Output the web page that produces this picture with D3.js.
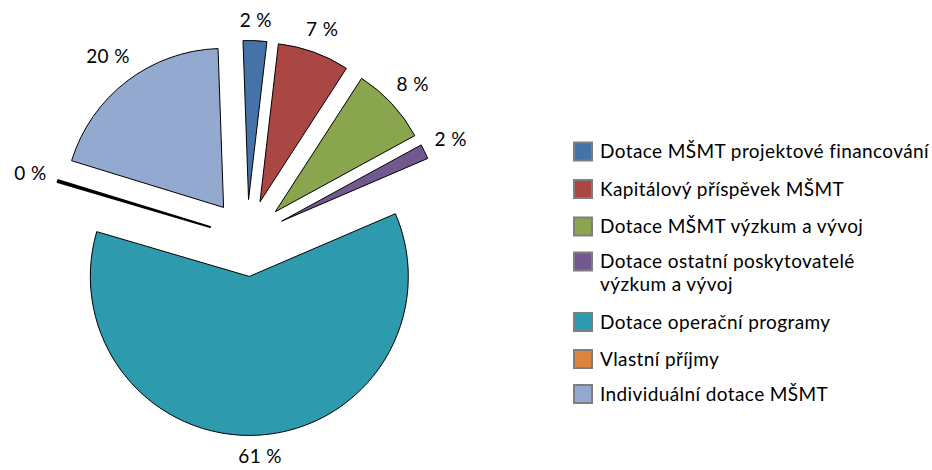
<!DOCTYPE html>
<html>
<head>
<meta charset="utf-8">
<script src="https://cdn.jsdelivr.net/npm/d3@7"></script>
<style>
  body { margin: 0; background: #fff; }
  text { font-family: Lato, "Noto Sans", sans-serif; fill: #000; font-size: 19px; letter-spacing: 0.4px; }
</style>
</head>
<body>
<div id="chart"></div>
<script>
// categories, shares (in %) and colours
var categories = [
  "Dotace MŠMT projektové financování",
  "Kapitálový příspěvek MŠMT",
  "Dotace MŠMT výzkum a vývoj",
  "Dotace ostatní poskytovatelé\nvýzkum a vývoj",
  "Dotace operační programy",
  "Vlastní příjmy",
  "Individuální dotace MŠMT"
];
var values = [2.4, 7.3, 7.9, 1.5, 61.0, 0.2, 19.7];
var colors = ["#4573a7", "#aa4643", "#89a54e", "#71588f", "#2e9aae", "#db843d", "#93a9cf"];

var width = 932, height = 470;
var cx = 247, cy = 238,
    radius = 159,
    explode = 38.5,
    labelPad = 10.5;

var svg = d3.select("#chart").append("svg")
    .attr("width", width)
    .attr("height", height);

var data = values.map(function(v, i) { return {name: categories[i], value: v, color: colors[i]}; });

var startA = -2 / 180 * Math.PI;
var pie = d3.pie()
    .sort(null)
    .value(function(d) { return d.value; })
    .startAngle(startA)
    .endAngle(startA + 2 * Math.PI);

var arc = d3.arc().innerRadius(0).outerRadius(radius);

var arcs = pie(data);

// offset of each slice along its bisector
function shift(d, dist) {
  var a = (d.startAngle + d.endAngle) / 2;
  return [Math.sin(a) * dist, -Math.cos(a) * dist];
}

var g = svg.append("g")
    .attr("transform", "translate(" + cx + "," + cy + ")");

g.selectAll("path.slice")
  .data(arcs)
  .enter().append("path")
    .attr("class", "slice")
    .attr("transform", function(d) { var s = shift(d, explode); return "translate(" + s[0] + "," + s[1] + ")"; })
    .attr("d", arc)
    .style("fill", function(d) { return d.data.color; })
    .style("stroke", "#000")
    .style("stroke-width", function(d) { return d.data.value < 0.5 ? 2 : 1; })
    .style("stroke-linejoin", "round");

// labels sit outside the slice; the box edge keeps a small gap from the arc
g.selectAll("text.lbl")
  .data(arcs)
  .enter().append("text")
    .attr("class", "lbl")
    .attr("text-anchor", "middle")
    .attr("dy", "0.35em")
    .text(function(d) { return Math.round(d.data.value) + " %"; })
    .attr("transform", function(d) {
      var a = (d.startAngle + d.endAngle) / 2,
          w = this.getComputedTextLength(), h = 18;
      var dist = explode + radius + labelPad + w / 2 * Math.abs(Math.sin(a)) + h / 2 * Math.abs(Math.cos(a));
      var t = shift(d, dist);
      return "translate(" + t[0] + "," + t[1] + ")";
    });

// legend
var legendY = [151.5, 189, 226.5, 261.5, 322, 359, 394];
var legend = svg.append("g").attr("class", "legend");

var item = legend.selectAll("g.item")
  .data(data)
  .enter().append("g")
    .attr("class", "item")
    .attr("transform", function(d, i) { return "translate(573," + legendY[i] + ")"; });

item.append("rect")
    .attr("x", 1).attr("y", -9)
    .attr("width", 18).attr("height", 18)
    .style("fill", function(d) { return d.color; })
    .style("stroke", "#7f7f7f")
    .style("stroke-width", 2);

item.append("text")
    .attr("x", 27)
    .attr("y", 6.5)
    .each(function(d) {
      var t = d3.select(this);
      d.name.split("\n").forEach(function(line, k) {
        t.append("tspan").attr("x", 27).attr("dy", k ? 23 : 0).text(line);
      });
    });
</script>
</body>
</html>
